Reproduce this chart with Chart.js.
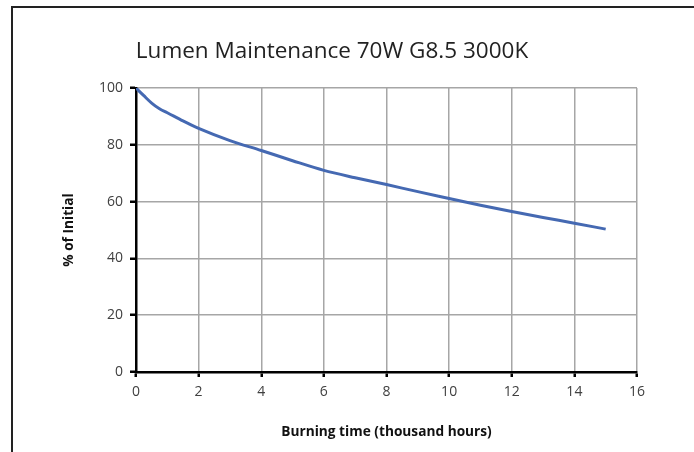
<!DOCTYPE html>
<html>
<head>
<meta charset="utf-8">
<script src="https://cdn.jsdelivr.net/npm/chart.js@4"></script>
<style>
  html, body { margin: 0; padding: 0; background: #fff; }
  #wrap { position: relative; width: 694px; height: 452px; overflow: hidden; }
  #frame { position: absolute; left: 11px; top: 6px; width: 800px; height: 600px;
           border-top: 2px solid #222; border-left: 2px solid #222; pointer-events: none; }
  canvas { position: absolute; left: 0; top: 0; }
</style>
</head>
<body>
<div id="wrap">
  <canvas id="c" width="694" height="452"></canvas>
  <div id="frame"></div>
</div>
<script>
// Data
const chartTitle = 'Lumen Maintenance 70W G8.5 3000K';
const xAxisTitle = 'Burning time (thousand hours)';
const yAxisTitle = '% of Initial';
const burnHours = [0, 0.25, 0.5, 0.75, 1, 1.5, 2, 3, 4, 5, 6, 7, 8, 9, 10, 11, 12, 13, 14, 15];
const lumenPct  = [100, 97.3, 94.7, 92.7, 91.3, 88.4, 85.8, 81.5, 78.0, 74.4, 71.0, 68.4, 66.0, 63.5, 61.1, 58.7, 56.5, 54.4, 52.4, 50.3];
const xTicks = [0, 2, 4, 6, 8, 10, 12, 14, 16];
const yTicks = [0, 20, 40, 60, 80, 100];

const points = burnHours.map((h, i) => ({ x: h, y: lumenPct[i] }));
const tickFont = { family: '"Open Sans", sans-serif', size: 14 };
const titleFont = { family: '"Open Sans", sans-serif', size: 13.7, weight: 'bold' };

new Chart(document.getElementById('c'), {
  type: 'line',
  data: {
    datasets: [{
      data: points,
      borderColor: '#4569b2',
      borderWidth: 3,
      pointRadius: 0,
      cubicInterpolationMode: 'monotone',
      fill: false
    }]
  },
  options: {
    responsive: false,
    animation: false,
    layout: { padding: { left: 27, right: 57, top: 0, bottom: 0 } },
    plugins: {
      legend: { display: false },
      tooltip: { enabled: false },
      title: {
        display: true,
        text: chartTitle,
        color: '#222',
        font: { family: '"Open Sans", sans-serif', size: 22.5, weight: 'normal' },
        padding: { top: 38, bottom: 23 }
      }
    },
    scales: {
      x: {
        type: 'linear',
        min: 0, max: 16,
        afterBuildTicks: s => { s.ticks = xTicks.map(v => ({ value: v })); },
        afterFit: s => { s.height = 80; s.paddingLeft = 0; s.paddingRight = 0; },
        grid: { color: '#a6a6a6', lineWidth: 1.5, tickColor: '#000', tickLength: 5, tickWidth: 2.5 },
        border: { color: '#000', width: 2.5 },
        ticks: { color: '#404040', font: tickFont, padding: 7, maxRotation: 0 },
        title: { display: true, text: xAxisTitle, color: '#111', font: titleFont, padding: { top: 0, bottom: 12 } }
      },
      y: {
        type: 'linear',
        min: 0, max: 100,
        afterBuildTicks: s => { s.ticks = yTicks.map(v => ({ value: v })); },
        afterFit: s => { s.width = 109; s.paddingTop = 0; s.paddingBottom = 0; },
        grid: { color: '#a6a6a6', lineWidth: 1.5, tickColor: '#000', tickLength: 6, tickWidth: 2.5 },
        border: { color: '#000', width: 2.5 },
        ticks: { color: '#404040', font: tickFont, padding: 7 },
        title: { display: true, text: yAxisTitle, color: '#111', font: titleFont, padding: { top: 34, bottom: 0 } }
      }
    }
  }
});
</script>
</body>
</html>
